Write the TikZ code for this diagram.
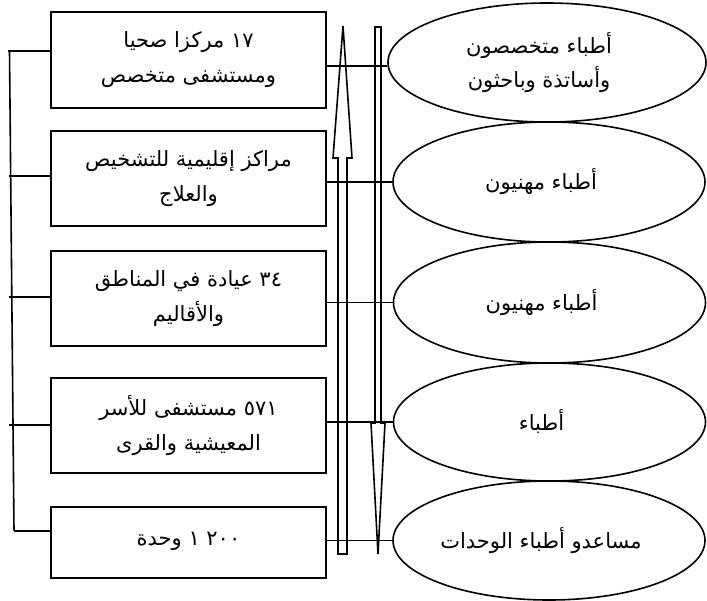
\documentclass[tikz,border=0pt]{standalone}
\usepackage{fontspec}
\usetikzlibrary{shapes.geometric}
\TeXXeTstate=1
\newfontfamily\arabicfont[Script=Arabic]{DejaVu Sans}
\newcommand{\ar}[1]{{\arabicfont\beginR #1\endR}}
\newcommand{\el}[1]{\ar{#1}\hspace*{16pt}}
\tikzset{
  boxnode/.style={draw, rectangle, line width=1.6pt, minimum width=275pt, inner sep=0pt, align=center,
    font=\fontsize{21}{35}\selectfont},
  ellnode/.style={draw, ellipse, line width=1.6pt, minimum width=312pt, minimum height=120pt, inner sep=0pt, align=center,
    font=\fontsize{21}{34}\selectfont},
  link/.style={line width=1.6pt}
}
\begin{document}
\begin{tikzpicture}[x=1pt,y=-1pt]
\useasboundingbox (0,0) rectangle (707,600);
% boxes
\node[boxnode, minimum height=96pt] (b1) at (188.5,60) {\ar{١٧ مركزا صحيا}\\\ar{ومستشفى متخصص}};
\node[boxnode, minimum height=95pt] (b2) at (188.5,178.5) {\ar{مراكز إقليمية للتشخيص}\\\ar{والعلاج}};
\node[boxnode, minimum height=95pt] (b3) at (188.5,298.5) {\ar{٣٤ عيادة في المناطق}\\\ar{والأقاليم}};
\node[boxnode, minimum height=95pt] (b4) at (188.5,425.5) {\ar{٥٧١ مستشفى للأسر}\\\ar{المعيشية والقرى}};
\node[boxnode, minimum height=71pt] (b5) at (188.5,542.5) {\raisebox{7pt}{\ar{٢٠٠ ١ وحدة}}};
% ellipses
\node[ellnode, minimum width=318pt, minimum height=119pt] (e1) at (547,62.5) {\el{أطباء متخصصون}\\\el{وأساتذة وباحثون}};
\node[ellnode] (e2) at (549,182) {\el{أطباء مهنيون}};
\node[ellnode, minimum height=121pt] (e3) at (549.5,302.5) {\el{أطباء مهنيون}};
\node[ellnode, minimum height=118pt] (e4) at (549.5,422) {\el{أطباء}};
\node[ellnode, minimum height=119pt] (e5) at (549,540.5) {\el{مساعدو أطباء الوحدات}};
% left bracket
\coordinate (t1) at (8,50.7);
\coordinate (t2) at (9.3,175.7);
\coordinate (t3) at (9.3,296.7);
\coordinate (t4) at (9.3,425);
\coordinate (t5) at (14,530.7);
\draw[link] (9.5,50.7) -- (14,530.7);
\draw[link] (b1.west |- t1) -- (t1);
\draw[link] (b2.west |- t2) -- (t2);
\draw[link] (b3.west |- t3) -- (t3);
\draw[link] (b4.west |- t4) -- (t4);
\draw[link] (b5.west |- t5) -- (t5);
% right connectors
\coordinate (r1) at (0,65.7);
\draw[link] (b1.east |- r1) -- (e1.west |- r1);
\draw[link] (b2.east |- e2.west) -- (e2.west);
\draw[link] (b3.east |- e3.west) -- (e3.west);
\draw[link] (b4.east |- e4.west) -- (e4.west);
\draw[link] (b5.east |- e5.west) -- (e5.west);
% block arrows
\draw[link, line join=miter] (338,554) -- (338,158) -- (333,158) -- (343,26) -- (352,158) -- (347,158) -- (347,554) -- cycle;
\draw[link, line join=miter] (375,27) -- (381,27) -- (381,423) -- (385,423) -- (378,554) -- (371,423) -- (375,423) -- cycle;
\end{tikzpicture}
\end{document}
